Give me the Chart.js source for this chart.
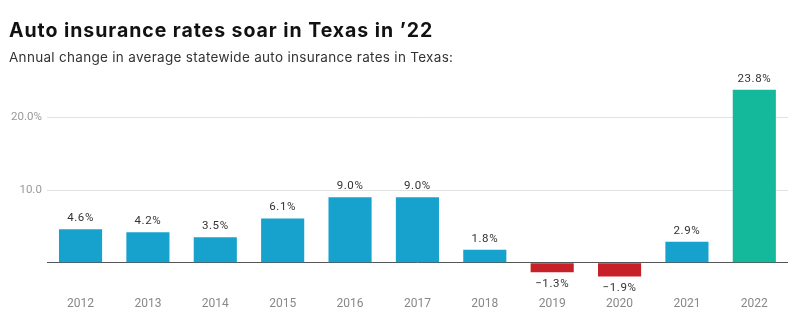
<!DOCTYPE html>
<html>
<head>
<meta charset="utf-8">
<script src="https://cdn.jsdelivr.net/npm/chart.js@4"></script>
<style>
  html, body { margin: 0; padding: 0; background: #fff; }
  #wrap { position: relative; width: 800px; height: 335px; }
  #titulo {
    position: absolute; left: 9px; top: 18px; margin: 0;
    font: bold 19.5px Inter, Roboto, sans-serif; color: #111;
    letter-spacing: 0.95px; white-space: nowrap;
  }
  #subtitulo {
    position: absolute; left: 9px; top: 49px; margin: 0;
    font: 13.5px Inter, Roboto, sans-serif; color: #333;
    letter-spacing: 0.3px; white-space: nowrap;
  }
  canvas { position: absolute; left: 0; top: 0; }
</style>
</head>
<body>
<div id="wrap">
  <canvas id="grafico"></canvas>
  <div id="titulo">Auto insurance rates soar in Texas in ’22</div>
  <div id="subtitulo">Annual change in average statewide auto insurance rates in Texas:</div>
</div>
<script>
const years = ['2012', '2013', '2014', '2015', '2016', '2017', '2018', '2019', '2020', '2021', '2022'];
const rateChange = [4.6, 4.2, 3.5, 6.1, 9.0, 9.0, 1.8, -1.3, -1.9, 2.9, 23.8];
const yTicks = [0, 10, 20];
const yTickLabels = ['', '10.0', '20.0%'];
const highlightYear = '2022';

const COLORS = {
  blue: 'rgb(23, 162, 206)',
  red: 'rgb(200, 32, 40)',
  green: 'rgb(20, 185, 155)'
};

function fmt(v) {
  // signo menos tipografico como en el original
  return (v < 0 ? '\u2212' : '') + Math.abs(v).toFixed(1) + '%';
}

// etiquetas de valor sobre/bajo cada barra
const valueLabels = {
  id: 'valueLabels',
  afterDatasetsDraw(chart) {
    const ctx = chart.ctx;
    const meta = chart.getDatasetMeta(0);
    ctx.save();
    ctx.font = '11.5px Roboto';
    ctx.letterSpacing = '0.6px';
    ctx.fillStyle = '#333';
    ctx.textAlign = 'center';
    ctx.textBaseline = 'middle';
    meta.data.forEach((bar, i) => {
      const v = rateChange[i];
      if (v >= 0) {
        ctx.fillText(fmt(v), bar.x, bar.y - 11);
      } else {
        ctx.fillText(fmt(v), bar.x, bar.y + 12);
      }
    });
    ctx.restore();
  }
};

const ctx = document.getElementById('grafico').getContext('2d');
new Chart(ctx, {
  type: 'bar',
  data: {
    labels: years,
    datasets: [{
      data: rateChange,
      backgroundColor: c => {
        if (years[c.dataIndex] === highlightYear) return COLORS.green;
        return rateChange[c.dataIndex] < 0 ? COLORS.red : COLORS.blue;
      },
      borderWidth: 0,
      categoryPercentage: 1,
      barPercentage: 0.64
    }]
  },
  options: {
    responsive: true,
    maintainAspectRatio: false,
    animation: false,
    layout: { padding: { left: 6, right: 12, top: 81, bottom: 12 } },
    plugins: {
      legend: { display: false },
      tooltip: { enabled: false }
    },
    scales: {
      x: {
        grid: { display: false, drawTicks: false },
        border: { display: false },
        ticks: {
          color: '#888',
          font: { family: 'Roboto', size: 12 },
          padding: 12
        }
      },
      y: {
        min: -3,
        max: 25,
        afterBuildTicks: axis => { axis.ticks = yTicks.map(v => ({ value: v })); },
        border: { display: false },
        grid: {
          color: c => c.tick && c.tick.value === 0 ? '#555' : '#e2e2e2',
          lineWidth: 1,
          drawTicks: false
        },
        ticks: {
          color: '#999',
          font: { family: 'Roboto', size: 11.5 },
          padding: 5,
          callback: (v) => {
            const i = yTicks.indexOf(v);
            return i >= 0 ? yTickLabels[i] : '';
          }
        }
      }
    }
  },
  plugins: [valueLabels]
});
</script>
</body>
</html>
